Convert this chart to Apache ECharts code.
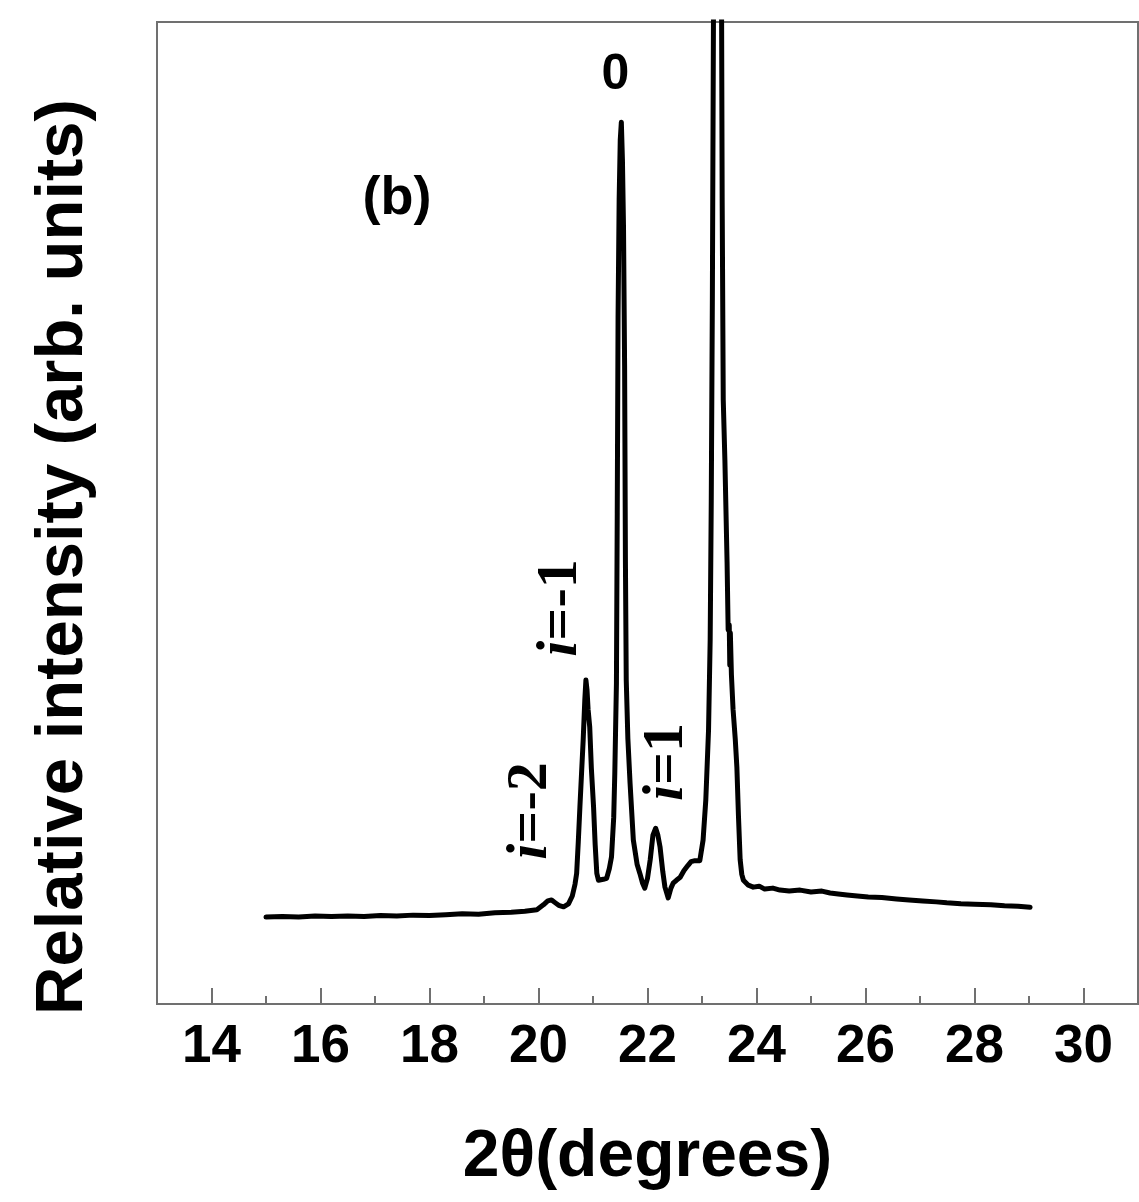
<!DOCTYPE html>
<html>
<head>
<meta charset="utf-8">
<script src="https://cdn.jsdelivr.net/npm/echarts@6/dist/echarts.min.js"></script>
<style>
html,body{margin:0;padding:0;background:#fff;}
#chart{width:1139px;height:1202px;}
</style>
</head>
<body>
<div id="chart"></div>
<script>
// 2theta (degrees)
var twoTheta = [
15.00,15.30,15.60,15.90,16.20,16.50,16.80,17.10,17.40,17.70,18.00,18.30,18.60,18.90,19.20,19.50,19.75,19.97,
20.09,20.17,20.24,20.31,20.37,20.46,20.55,20.62,20.67,20.70,20.73,20.76,20.79,20.82,20.85,20.87,20.89,20.91,
20.94,20.97,21.01,21.04,21.07,21.10,21.13,21.19,21.25,21.30,21.34,21.38,21.40,21.43,21.445,21.46,21.48,21.50,
21.52,21.54,21.56,21.58,21.595,21.61,21.64,21.68,21.74,21.81,21.86,21.91,21.95,22.00,22.05,22.10,22.15,22.19,
22.23,22.28,22.32,22.38,22.43,22.47,22.53,22.60,22.67,22.74,22.80,22.87,22.96,23.02,23.07,23.12,23.15,23.17,
23.19,23.21,23.28,23.36,23.37,23.39,23.42,23.46,23.48,23.50,23.51,23.52,23.54,23.57,23.61,23.64,23.67,23.70,
23.73,23.76,23.85,23.94,24.05,24.15,24.30,24.43,24.60,24.80,25.00,25.20,25.35,25.50,25.66,25.85,26.05,26.30,
26.57,26.80,27.05,27.30,27.49,27.75,28.00,28.30,28.55,28.80,29.02
];
// relative intensity (arb. units)
var intensity = [
8.85,8.90,8.85,8.95,8.90,8.95,8.90,9.00,8.95,9.05,9.00,9.10,9.20,9.15,9.30,9.35,9.45,9.60,
10.1,10.5,10.6,10.3,10.05,9.90,10.2,11.0,12.2,13.3,16.5,20.1,23.5,26.9,31.0,33.0,32.0,30.0,
28.2,24.0,20.1,16.2,13.3,12.6,12.5,12.7,12.8,13.8,15.0,19.0,23.5,32.7,50.0,70.0,82.0,88.0,
89.8,86.0,79.0,65.0,45.0,33.0,27.0,22.5,16.7,14.2,13.3,12.3,11.8,12.8,14.7,17.2,17.9,17.2,
16.0,13.5,11.9,10.8,11.8,12.3,12.6,12.9,13.6,14.1,14.5,14.6,14.6,16.7,20.8,27.9,37.1,51.3,
71.7,100,150,100,81.9,61.5,55.4,45.0,38.1,38.6,34.5,37.8,33.5,30.0,27.0,24.1,19.0,14.7,
13.2,12.6,12.1,11.9,12.0,11.7,11.8,11.6,11.5,11.6,11.4,11.5,11.3,11.2,11.1,11.0,10.9,10.85,
10.7,10.6,10.5,10.4,10.3,10.2,10.15,10.1,10.0,9.95,9.85
];
var majorTicks = [14,16,18,20,22,24,26,28,30];
var minorTicks = [15,17,19,21,23,25,27,29];
var xTitle = '2θ(degrees)';
var yTitle = 'Relative intensity (arb. units)';
var panelLabel = '(b)';
var peakLabels = [
  {text: '0', rich: false},
  {text: '{it|i}=-2', rich: true},
  {text: '{it|i}=-1', rich: true},
  {text: '{it|i}=1', rich: true}
];

var seriesData = twoTheta.map(function (x, i) { return [x, intensity[i]]; });

var chart = echarts.init(document.getElementById('chart'), null, {renderer: 'canvas'});
var frame = '#707070';
var sans = '"Liberation Sans", Arial, sans-serif';
var serif = '"Liberation Serif", "Times New Roman", serif';

function annot(txt, x, y) {
  return {
    type: 'text', x: x, y: y, rotation: Math.PI / 2, z: 10,
    style: {
      text: txt, fill: '#000', align: 'center', verticalAlign: 'middle',
      font: 'bold 58px ' + serif,
      rich: { it: { fontStyle: 'italic', fontWeight: 'bold', fontSize: 58, fontFamily: serif, fill: '#000' } }
    }
  };
}

chart.setOption({
  backgroundColor: '#fff',
  animation: false,
  grid: {
    left: 157, right: 1, top: 22, bottom: 198,
    show: true, borderColor: frame, borderWidth: 2, backgroundColor: 'transparent'
  },
  xAxis: [{
    type: 'value', min: 13, max: 31, gridIndex: 0,
    axisLine: { show: true, onZero: false, lineStyle: { color: frame, width: 2 } },
    axisTick: { show: true, inside: true, length: 16, customValues: majorTicks, lineStyle: { color: frame, width: 2 } },
    axisLabel: { show: true, customValues: majorTicks, margin: 17, color: '#000', fontSize: 53, fontWeight: 'bold', fontFamily: sans },
    splitLine: { show: false },
    name: xTitle, nameLocation: 'middle', nameGap: 121,
    nameTextStyle: { color: '#000', fontSize: 66, fontWeight: 'bold', fontFamily: sans }
  }, {
    type: 'value', min: 13, max: 31, gridIndex: 0, position: 'bottom',
    axisLine: { show: false },
    axisTick: { show: true, inside: true, length: 8, customValues: minorTicks, lineStyle: { color: frame, width: 2 } },
    axisLabel: { show: false },
    splitLine: { show: false }
  }],
  yAxis: {
    type: 'value', min: 0, max: 100,
    axisLine: { show: true, lineStyle: { color: frame, width: 2 } },
    axisTick: { show: false }, axisLabel: { show: false }, splitLine: { show: false }
  },
  series: [{
    type: 'line', xAxisIndex: 0, data: seriesData, showSymbol: false, symbol: 'none',
    clip: true, smooth: false,
    lineStyle: { color: '#000', width: 5, join: 'round', cap: 'round' }
  }],
  graphic: [
    { type: 'text', x: 64, y: 557, rotation: Math.PI / 2,
      style: { text: yTitle, fill: '#000', align: 'center', verticalAlign: 'middle', font: 'bold 67px ' + sans } },
    { type: 'text', x: 397, y: 199,
      style: { text: panelLabel, fill: '#000', align: 'center', verticalAlign: 'middle', font: 'bold 54px ' + sans } },
    { type: 'text', x: 615.5, y: 75,
      style: { text: peakLabels[0].text, fill: '#000', align: 'center', verticalAlign: 'middle', font: 'bold 50px ' + sans } },
    annot(peakLabels[1].text, 531, 811),
    annot(peakLabels[2].text, 561, 608),
    annot(peakLabels[3].text, 667, 762)
  ]
});
</script>
</body>
</html>
